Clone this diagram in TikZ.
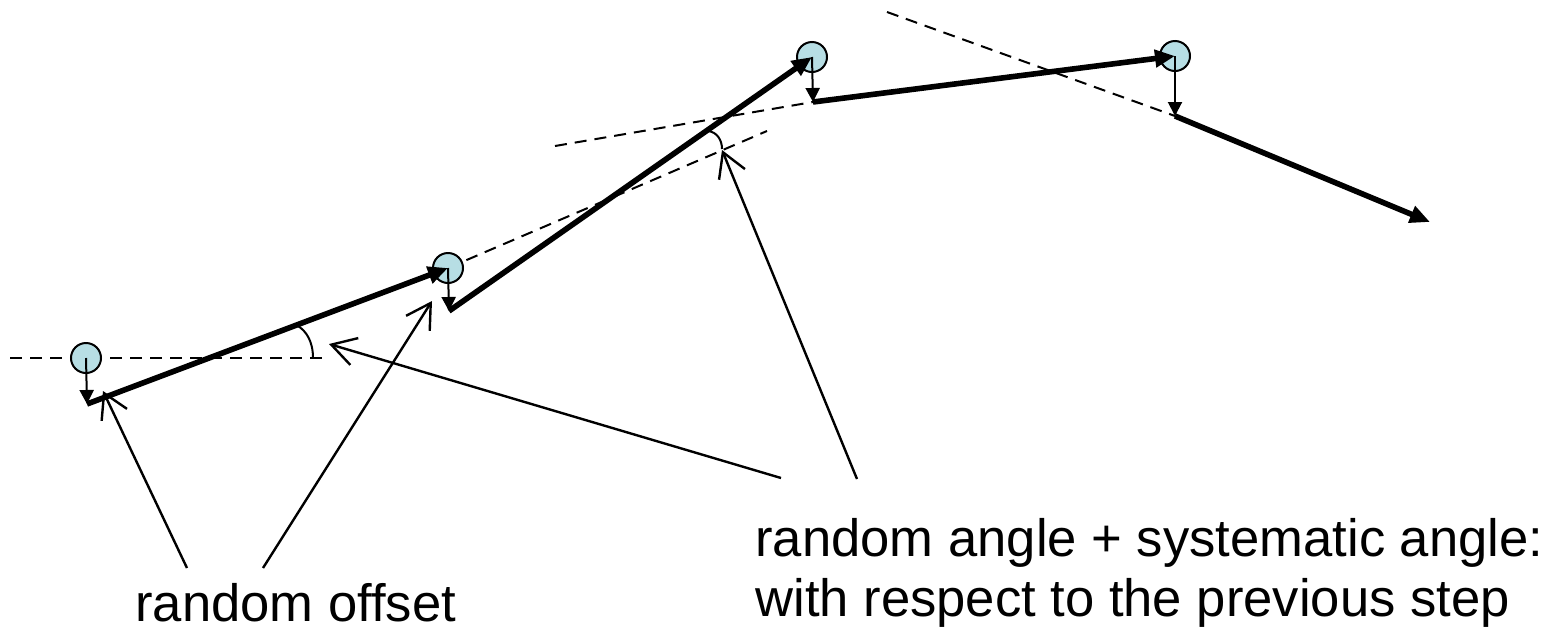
\documentclass[tikz,border=0pt]{standalone}
\usepackage{fontspec}
\setmainfont{Liberation Sans}
\usetikzlibrary{arrows.meta}
\definecolor{dotfill}{RGB}{183,222,228}
\begin{document}
\begin{tikzpicture}[x=0.5pt,y=-0.5pt,
  dot/.style={circle,draw,line width=1pt,fill=dotfill,minimum size=15pt,inner sep=0pt},
  stepline/.style={line width=2.8pt,-{Triangle[length=10pt,width=8.5pt]}},
  offarrow/.style={line width=1pt,-{Triangle[length=7pt,width=7pt]}},
  guide/.style={line width=1pt,dash pattern=on 6pt off 4pt},
  anglearc/.style={line width=1pt},
  callout/.style={line width=1.2pt,-{Straight Barb[length=12pt,width=14pt]}},
  lbl/.style={font=\fontsize{26.3}{30.25}\selectfont,anchor=base west,inner sep=0pt}]
\useasboundingbox (0,0) rectangle (1560,633);
% positions
\coordinate (p1) at (86,358);
\coordinate (p2) at (448,268);
\coordinate (p3) at (812,57);
\coordinate (p4) at (1175,56);
\coordinate (s1) at (87,404);
\coordinate (s2) at (449,311);
\coordinate (s3) at (813,102);
\coordinate (s4) at (1175,116);
\coordinate (e) at (1430,222);
% guide lines
\coordinate (g1a) at (10,358);
\coordinate (g1b) at (328,358);
\coordinate (g2b) at (767,131);
\coordinate (g3a) at (555,146);
\coordinate (g4a) at (887,12);
\draw[guide] (g1a) -- (g1b);
\draw[guide] (p2) -- (g2b);
\draw[guide] (g3a) -- (s3);
\draw[guide] (g4a) -- (s4);
% dots
\node[dot] (c1) at (p1) {};
\node[dot] (c2) at (p2) {};
\node[dot] (c3) at (p3) {};
\node[dot] (c4) at (p4) {};
% angle arcs
\draw[anglearc] (313,358) .. controls (313,341) and (306,331) .. (298,326);
\draw[anglearc] (708,131) .. controls (717,132) and (722,140) .. (722,149);
% steps
\draw[stepline] (s1) -- (c2.center);
\draw[stepline] (s2) -- (c3.center);
\draw[stepline] (s3) -- (c4.center);
\draw[stepline] (s4) -- (e);
% offsets
\draw[offarrow] (c1.center) -- (s1);
\draw[offarrow] (c2.center) -- (s2);
\draw[offarrow] (c3.center) -- (s3);
\draw[offarrow] (c4.center) -- (s4);
% labels
\node[lbl] (t1) at (135,621) {random offset};
\node[lbl] (t2) at (755,556) {random angle + systematic angle:};
\node[lbl] (t3) at (755,616) {with respect to the previous step};
% callouts
\coordinate (k1) at (187,568);
\coordinate (k2) at (263,568);
\coordinate (k3) at (781,478);
\coordinate (k4) at (857,479);
\coordinate (q1) at (103,391);
\coordinate (q2) at (432,301);
\coordinate (q3) at (329,344);
\coordinate (q4) at (722,150);
\draw[callout] (k1) -- (q1);
\draw[callout] (k2) -- (q2);
\draw[callout] (k3) -- (q3);
\draw[callout] (k4) -- (q4);
\end{tikzpicture}
\end{document}
